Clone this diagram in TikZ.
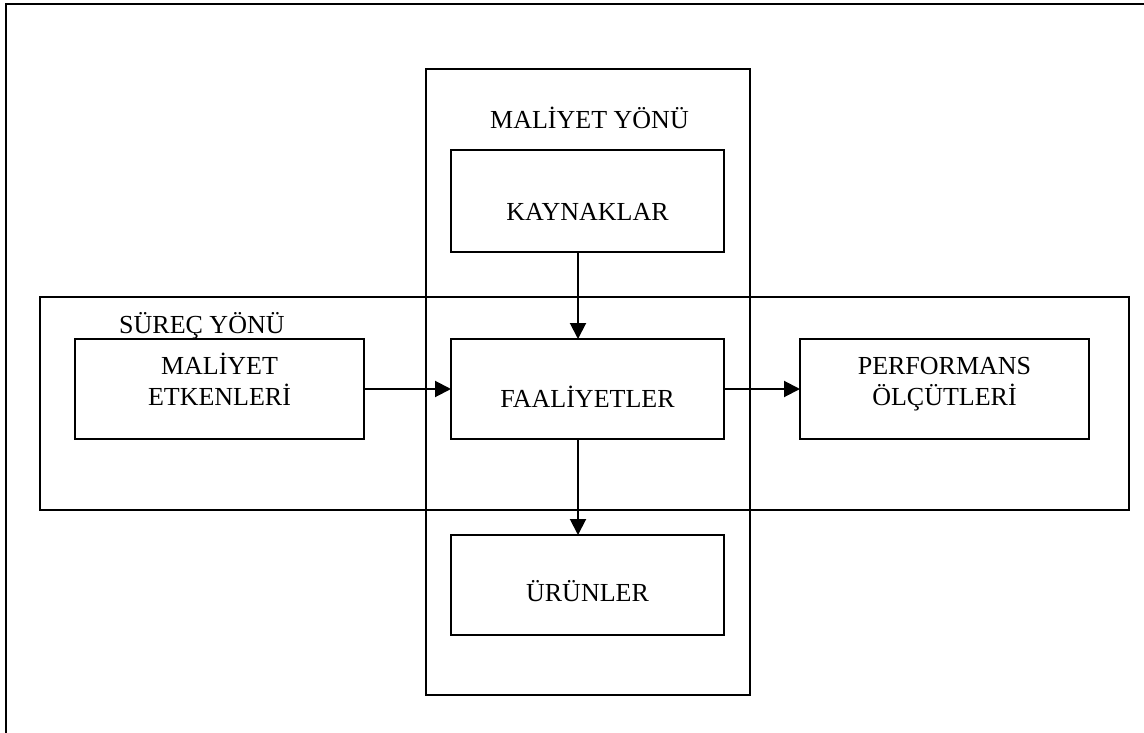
\documentclass[tikz,border=0pt]{standalone}
\usepackage{fontspec}
\setmainfont{Liberation Serif}
\usetikzlibrary{arrows.meta}
\begin{document}
\begin{tikzpicture}[x=1pt,y=-1pt,
  frame/.style={draw, line width=1.9pt, inner sep=0pt, outer sep=0pt},
  txt/.style={font=\fontsize{26}{31}\selectfont},
  box/.style={frame, txt, minimum width=273pt},
  widebox/.style={frame, txt, minimum width=289pt},
  flow/.style={line width=2pt, -{Triangle[length=16pt,width=16pt]}},
  caption/.style={txt, inner sep=0pt}]
\useasboundingbox (0,0) rectangle (1144,733);

% page frame
\draw[line width=2.6pt] (6,733) -- (6,4) -- (1144,4);

% the two crossing areas
\node[frame, minimum width=324pt, minimum height=626pt] (maliyetyonu) at (588,382) {};
\node[frame, minimum width=1089pt, minimum height=213pt] (surecyonu) at (584.5,403.5) {};
\node[caption, anchor=base] (maliyetbaslik) at (589.5,129) {MALİYET YÖNÜ};
\node[caption, anchor=base west] (surecbaslik) at (119,333) {SÜREÇ YÖNÜ};

% blocks
\node[box, text height=70pt, text depth=32pt] (kaynak) at (587.5,201) {KAYNAKLAR};
\node[box, text height=68pt, text depth=32pt] (faal) at (587.5,389) {FAALİYETLER};
\node[box, text height=66pt, text depth=34pt] (urun) at (587.5,585) {ÜRÜNLER};
\node[widebox, text height=35pt, text depth=65pt] (etken) at (219.5,389)
  {\begin{tabular}[t]{c}MALİYET\\ETKENLERİ\end{tabular}};
\node[widebox, text height=35pt, text depth=65pt] (perf) at (944.5,389)
  {\begin{tabular}[t]{c}PERFORMANS\\ÖLÇÜTLERİ\end{tabular}};

% flows
\draw[flow] ([xshift=-9.5pt]kaynak.south) -- ([xshift=-9.5pt]faal.north);
\draw[flow] (etken.east) -- (faal.west);
\draw[flow] (faal.east) -- (perf.west);
\draw[flow] ([xshift=-9.5pt]faal.south) -- ([xshift=-9.5pt]urun.north);
\end{tikzpicture}
\end{document}
